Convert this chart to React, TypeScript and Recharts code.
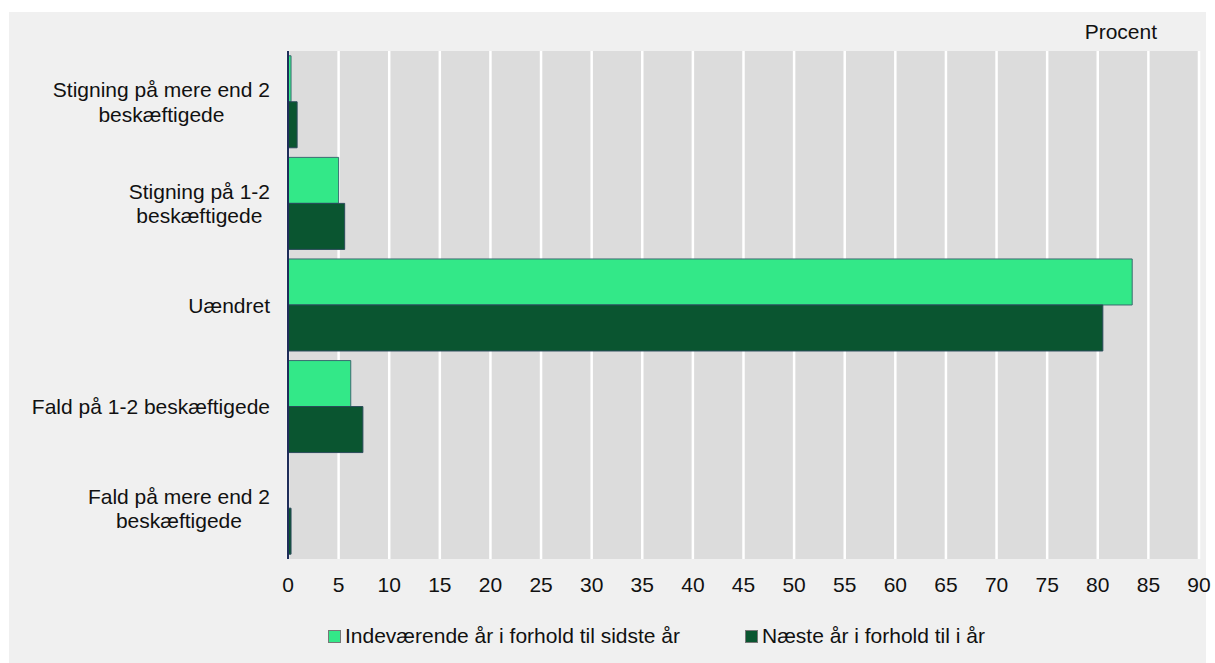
import { Bar, BarChart, CartesianGrid, XAxis, YAxis } from "recharts";

const FONT = "'Liberation Sans', Arial, sans-serif";
const LIGHT = "#33e888";
const DARK = "#0a5530";

const categories = [
  "Stigning på mere end 2\nbeskæftigede",
  "Stigning på 1-2\nbeskæftigede",
  "Uændret",
  "Fald på 1-2 beskæftigede",
  "Fald på mere end 2\nbeskæftigede",
];
const currentYear = [0.3, 5.0, 83.4, 6.2, 0];
const nextYear = [0.9, 5.6, 80.5, 7.4, 0.3];
const xTicks = [0, 5, 10, 15, 20, 25, 30, 35, 40, 45, 50, 55, 60, 65, 70, 75, 80, 85, 90];
const seriesNames = ["Indeværende år i forhold til sidste år", "Næste år i forhold til i år"];

const data = categories.map((c, i) => ({ cat: c, cur: currentYear[i], next: nextYear[i] }));

let ctx: CanvasRenderingContext2D | null = null;
function textWidth(s: string) {
  if (!ctx) ctx = document.createElement("canvas").getContext("2d");
  if (!ctx) return s.length * 10;
  ctx.font = `21px ${FONT}`;
  return ctx.measureText(s).width;
}

// category label: lines centred on each other, block right-aligned to the axis
function CatTick(props: any) {
  const { x, y, payload } = props;
  const lines = String(payload.value).split("\n");
  const w = Math.max(...lines.map(textWidth));
  const cx = x - 10 - w / 2;
  const lh = 24.5;
  const y0 = y - ((lines.length - 1) * lh) / 2;
  return (
    <g>
      {lines.map((l, i) => (
        <text key={i} x={cx} y={y0 + i * lh} dy="0.36em" textAnchor="middle" fontSize={21} fontFamily={FONT} fill="#111">
          {l}
        </text>
      ))}
    </g>
  );
}

export default function App() {
  return (
    <div style={{ position: "absolute", left: 9, top: 12, width: 1206, height: 651, fontFamily: FONT }}>
      <div style={{ position: "absolute", left: 0, top: 0, width: 1197, height: 651, background: "#f0f0f0" }} />
      <span style={{ position: "absolute", right: 1206 - 1148, top: 8, fontSize: 21, color: "#111" }}>Procent</span>
      <div style={{ position: "absolute", left: 0, top: 0 }}>
        <BarChart
          width={1206}
          height={651}
          data={data}
          layout="vertical"
          margin={{ top: 39, right: 16, left: 0, bottom: 64 }}
          barGap={0}
          barCategoryGap="4.7%"
        >
          <CartesianGrid horizontal={false} stroke="#ffffff" strokeWidth={2.5} fill="#dcdcdc" />
          <XAxis
            type="number"
            domain={[0, 90]}
            ticks={xTicks}
            interval={0}
            axisLine={false}
            tickLine={false}
            tickMargin={12}
            height={40}
            tick={{ fontSize: 21, fill: "#111", fontFamily: FONT }}
          />
          <YAxis
            type="category"
            dataKey="cat"
            width={279}
            axisLine={{ stroke: "#1f2d5a", strokeWidth: 2 }}
            tickLine={false}
            interval={0}
            tick={<CatTick />}
          />
          <Bar dataKey="cur" name={seriesNames[0]} fill={LIGHT} stroke="#3a6b70" strokeWidth={1} isAnimationActive={false} />
          <Bar dataKey="next" name={seriesNames[1]} fill={DARK} stroke="#2a4a5a" strokeWidth={1} isAnimationActive={false} />
        </BarChart>
      </div>
      <div style={{ position: "absolute", left: 319, top: 612, display: "flex", alignItems: "center", fontSize: 21, color: "#111" }}>
        {seriesNames.map((n, i) => (
          <div key={n} style={{ display: "flex", alignItems: "center", marginRight: i === 0 ? 65 : 0 }}>
            <span style={{ width: 11, height: 11, background: i === 0 ? LIGHT : DARK, border: "1px solid #777", marginRight: 4 }} />
            <span>{n}</span>
          </div>
        ))}
      </div>
    </div>
  );
}
